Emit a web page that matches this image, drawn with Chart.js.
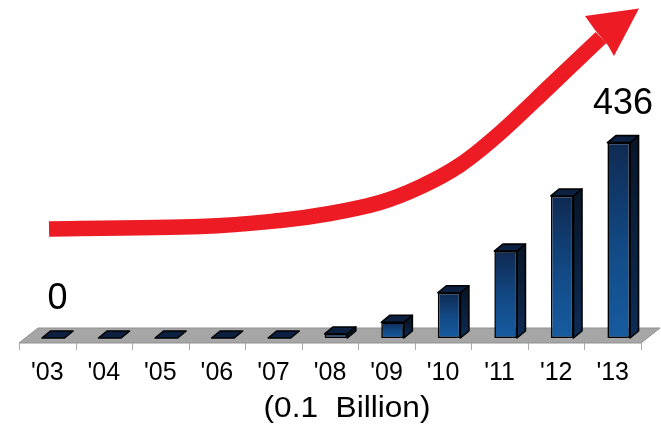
<!DOCTYPE html>
<html>
<head>
<meta charset="utf-8">
<script src="https://cdn.jsdelivr.net/npm/chart.js@4/dist/chart.umd.min.js"></script>
<style>
  html, body { margin: 0; padding: 0; background: #fff; }
  #wrap { width: 661px; height: 426px; }
</style>
</head>
<body>
<div id="wrap"><canvas id="c" width="661" height="426" style="width:661px;height:426px"></canvas></div>
<script>
// Yearly volume, in units of 0.1 billion
const years = ["'03", "'04", "'05", "'06", "'07", "'08", "'09", "'10", "'11", "'12", "'13"];
const volumes = [0, 0, 0, 0, 0, 9, 35, 101, 194, 317, 436];
// Bars whose value is printed above them
const labelledYears = ["'03", "'13"];
const unitLabel = '(0.1  Billion)';

const FONT = "'Liberation Sans', Arial, Helvetica, sans-serif";

// 3D look: how far the bar's top/side faces recede, and where the bars sit on the floor
const BAR_DEPTH = { dx: 8.5, dy: 7 };
const FLOOR_DEPTH = { dx: 19, dy: 15 };
const BAR_SHIFT = 6;       // bars stand a little back on the floor
const FLOOR_FRONT = 5;     // floor front edge sits below the bar base

// Rising trend arrow drawn over the chart (canvas px)
const ARROW_SHAFT = [[49, 229], [200, 226.5], [280, 220.5], [330, 213.5], [380, 202.5], [420, 187], [460, 165], [500, 133], [550, 86], [601, 37.5]];
const ARROW_HEAD = [[595, 30], [585, 16], [639, 8.5], [614, 56], [607.7, 45]];

function frontGradient(ctx) {
  const chart = ctx.chart;
  if (!chart.chartArea || ctx.type !== 'data') return '#164b87';
  const y = chart.scales.y;
  const top = y.getPixelForValue(ctx.raw);
  const base = y.getPixelForValue(0);
  if (base - top < 1) return '#0e2340';
  const g = chart.ctx.createLinearGradient(0, top, 0, base);
  g.addColorStop(0, '#0f2a52');
  g.addColorStop(0.55, '#124a86');
  g.addColorStop(1, '#175ca0');
  return g;
}

const floorAndFaces = {
  id: 'floorAndFaces',
  beforeDatasetsDraw(chart) {
    const { ctx, chartArea: a, scales } = chart;
    const base = scales.y.getPixelForValue(0);
    const front = base + FLOOR_FRONT;
    const back = front - FLOOR_DEPTH.dy;
    ctx.save();
    // floor slab
    ctx.beginPath();
    ctx.moveTo(a.left, front);
    ctx.lineTo(a.right, front);
    ctx.lineTo(a.right + FLOOR_DEPTH.dx, back);
    ctx.lineTo(a.left + FLOOR_DEPTH.dx, back);
    ctx.closePath();
    ctx.fillStyle = '#a6a6a6';
    ctx.fill();
    ctx.lineWidth = 1;
    ctx.strokeStyle = '#8f8f8f';
    ctx.stroke();
    // category separators below the floor
    ctx.strokeStyle = '#a9a9a9';
    ctx.beginPath();
    const n = years.length;
    for (let i = 0; i <= n; i++) {
      const x = Math.round(a.left + (a.right - a.left) * i / n) + 0.5;
      ctx.moveTo(x, front);
      ctx.lineTo(x, front + 7);
    }
    ctx.stroke();
    ctx.restore();
    // bars stand slightly back from the category centre
    ctx.save();
    ctx.translate(BAR_SHIFT, 0);
  },
  afterDatasetsDraw(chart) {
    const { ctx } = chart;
    ctx.restore();
    const meta = chart.getDatasetMeta(0);
    ctx.save();
    ctx.translate(BAR_SHIFT, 0);
    ctx.lineJoin = 'round';
    meta.data.forEach((bar) => {
      const { x, y, base, width } = bar.getProps(['x', 'y', 'base', 'width'], true);
      const l = x - width / 2, r = x + width / 2;
      const dx = BAR_DEPTH.dx, dy = BAR_DEPTH.dy;
      // side face
      if (base - y > 0.5) {
        const sg = ctx.createLinearGradient(0, y, 0, base);
        sg.addColorStop(0, '#081629');
        sg.addColorStop(1, '#0d2c55');
        ctx.beginPath();
        ctx.moveTo(r, y);
        ctx.lineTo(r + dx, y - dy);
        ctx.lineTo(r + dx, base - dy);
        ctx.lineTo(r, base);
        ctx.closePath();
        ctx.fillStyle = sg;
        ctx.fill();
        ctx.lineWidth = 1.6;
        ctx.strokeStyle = '#000';
        ctx.stroke();
      }
      // top face
      ctx.beginPath();
      ctx.moveTo(l, y);
      ctx.lineTo(l + dx, y - dy);
      ctx.lineTo(r + dx, y - dy);
      ctx.lineTo(r, y);
      ctx.closePath();
      ctx.fillStyle = '#0c2142';
      ctx.fill();
      ctx.lineWidth = 1.6;
      ctx.strokeStyle = '#000';
      ctx.stroke();
    });
    // value labels
    ctx.fillStyle = '#000';
    ctx.textAlign = 'center';
    ctx.textBaseline = 'alphabetic';
    meta.data.forEach((bar, i) => {
      if (!labelledYears.includes(years[i])) return;
      ctx.font = `36px ${FONT}`;
      ctx.fillText(String(volumes[i]), bar.x + BAR_DEPTH.dx / 2, bar.y - BAR_DEPTH.dy - 22);
    });
    ctx.restore();
  },
  afterDraw(chart) {
    const { ctx, chartArea: a } = chart;
    ctx.save();
    // unit caption under the year labels, set slightly wide
    ctx.fillStyle = '#000';
    ctx.font = `29px ${FONT}`;
    ctx.textAlign = 'center';
    ctx.textBaseline = 'middle';
    ctx.translate((a.left + a.right) / 2 + 17, 409);
    ctx.scale(1.09, 1);
    ctx.fillText(unitLabel, 0, 0);
    ctx.restore();

    ctx.save();
    // trend arrow: smooth shaft through the path points, then the head
    const p = ARROW_SHAFT;
    ctx.beginPath();
    ctx.moveTo(p[0][0], p[0][1]);
    for (let i = 0; i < p.length - 1; i++) {
      const p0 = p[Math.max(0, i - 1)], p1 = p[i], p2 = p[i + 1], p3 = p[Math.min(p.length - 1, i + 2)];
      const c1x = p1[0] + (p2[0] - p0[0]) / 6, c1y = p1[1] + (p2[1] - p0[1]) / 6;
      const c2x = p2[0] - (p3[0] - p1[0]) / 6, c2y = p2[1] - (p3[1] - p1[1]) / 6;
      ctx.bezierCurveTo(c1x, c1y, c2x, c2y, p2[0], p2[1]);
    }
    ctx.strokeStyle = '#ed1c24';
    ctx.lineWidth = 15.5;
    ctx.lineCap = 'butt';
    ctx.lineJoin = 'round';
    ctx.stroke();
    ctx.beginPath();
    ARROW_HEAD.forEach(([hx, hy], i) => i ? ctx.lineTo(hx, hy) : ctx.moveTo(hx, hy));
    ctx.closePath();
    ctx.fillStyle = '#ed1c24';
    ctx.fill();
    ctx.restore();
  }
};

new Chart(document.getElementById('c'), {
  type: 'bar',
  data: {
    labels: years,
    datasets: [{
      data: volumes,
      backgroundColor: frontGradient,
      borderColor: '#000',
      borderWidth: 1.6,
      borderSkipped: false,
      categoryPercentage: 0.8,
      barPercentage: 0.5
    }]
  },
  options: {
    responsive: false,
    animation: false,
    devicePixelRatio: 1,
    layout: { padding: { left: 19, right: 20, top: 114, bottom: 18 } },
    plugins: { legend: { display: false }, tooltip: { enabled: false } },
    scales: {
      x: {
        grid: { display: false, drawTicks: false },
        border: { display: false },
        ticks: { color: '#000', padding: 20, font: { family: FONT, size: 25 }, maxRotation: 0 }
      },
      y: { display: false, min: 0, max: 500 }
    }
  },
  plugins: [floorAndFaces]
});
</script>
</body>
</html>
